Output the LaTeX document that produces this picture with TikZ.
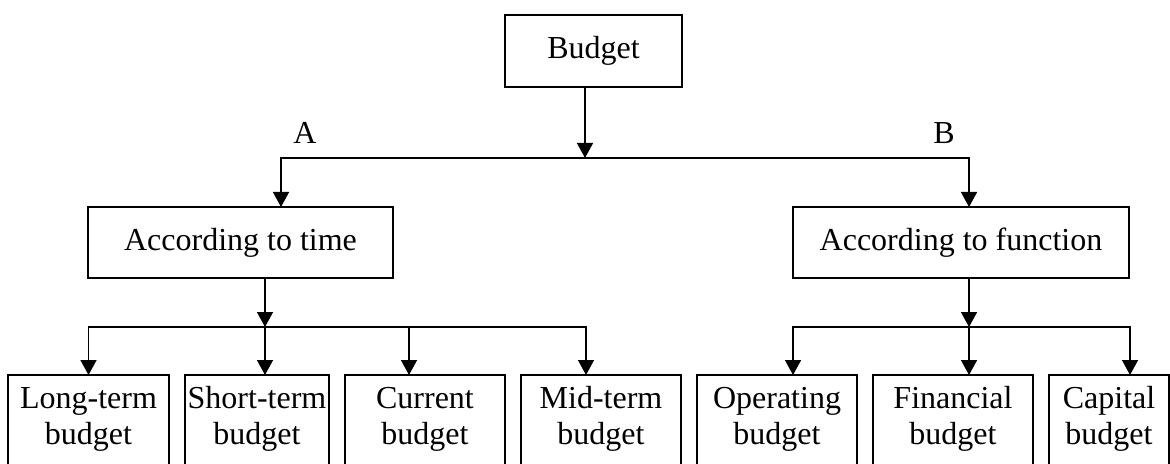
\documentclass[tikz,border=0pt]{standalone}
\usepackage{fontspec}
\setmainfont{Liberation Serif}
\usepackage{tikz}
\usetikzlibrary{arrows.meta,positioning}

\begin{document}
\begin{tikzpicture}[
    x=0.5pt, y=-0.5pt,
    font=\fontsize{16pt}{18pt}\selectfont,
    box/.style={draw, rectangle, line width=0.75pt, inner sep=0pt, outer sep=0pt, align=center},
    leaf/.style={box, anchor=north west, minimum width=80pt, text height=34.5pt, text depth=17pt},
    arrow/.style={-{Triangle[length=7.5pt,width=8pt]}, line width=0.75pt}
]
    \useasboundingbox (0,0) rectangle (1170,464);
    \clip (0,0) rectangle (1170,464);

    \node[box, minimum width=88.5pt, minimum height=36pt] (budget) at (593.5,51) {Budget};
    \node[box, minimum width=152.5pt, minimum height=35.5pt] (time) at (240.5,242.5) {According to time};
    \node[box, minimum width=168pt, minimum height=35.5pt] (function) at (961,242.5) {According to function};

    \node (labelA) at (305,133) {A};
    \node (labelB) at (944,133) {B};

    % bottom row
    \node[leaf, minimum width=80.5pt] (longterm) at (8,375) {Long-term\\budget};
    \node[leaf, right=8pt of longterm, minimum width=72pt] (shortterm) {Short-term\\budget};
    \node[leaf, right=8pt of shortterm] (current) {Current\\budget};
    \node[leaf, right=8pt of current] (midterm) {Mid-term\\budget};
    \node[leaf, right=8pt of midterm] (operating) {Operating\\budget};
    \node[leaf, right=8pt of operating] (financial) {Financial\\budget};
    \node[leaf, right=8pt of financial, minimum width=60pt] (capital) {Capital\\budget};

    % buses
    \coordinate (topbus) at (585,158);
    \coordinate (timebus) at (265,327);
    \coordinate (funcbus) at (969,327);

    \draw[arrow] (budget.south -| topbus) -- (topbus);
    \draw[arrow] (topbus) -| ([xshift=20.25pt]time.north);
    \draw[arrow] (topbus) -| ([xshift=4pt]function.north);

    \draw[arrow] (time.south -| timebus) -- (timebus);
    \foreach \leafname/\shift in {longterm/0pt, shortterm/4pt, current/-8pt, midterm/-7.5pt}
        \draw[arrow] (timebus) -| ([xshift=\shift]\leafname.north);

    \draw[arrow] (function.south -| funcbus) -- (funcbus);
    \foreach \leafname/\shift in {operating/8pt, financial/8pt, capital/10.5pt}
        \draw[arrow] (funcbus) -| ([xshift=\shift]\leafname.north);

\end{tikzpicture}
\end{document}
